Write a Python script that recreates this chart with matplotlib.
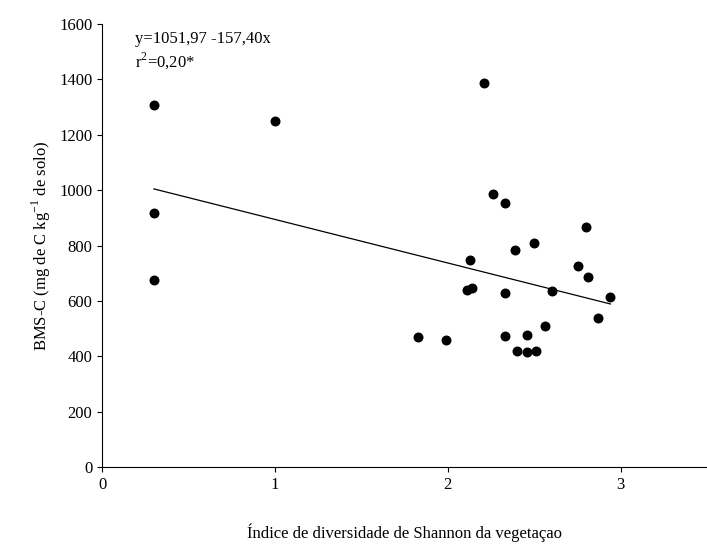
import matplotlib
matplotlib.use("Agg")
import matplotlib.pyplot as plt
import numpy as np

plt.rcParams['font.family'] = ['Liberation Serif', 'DejaVu Serif']
plt.rcParams['mathtext.fontset'] = 'custom'
plt.rcParams['mathtext.rm'] = 'Liberation Serif'
plt.rcParams['axes.unicode_minus'] = False
x = [0.30,0.30,0.30,1.00,2.21,2.26,2.33,2.39,2.50,2.13,2.11,2.14,2.33,2.60,1.83,1.99,2.33,2.40,2.46,2.46,2.51,2.56,2.75,2.80,2.81,2.87,2.94]
y = [1307,917,675,1250,1387,986,953,784,809,748,639,646,628,636,470,459,473,421,476,417,419,511,727,866,688,537,614]
a, b = 1051.97, -157.40

fig = plt.figure(figsize=(7.07,5.47), dpi=100)
ax = fig.add_axes([0.1443,0.146,0.856,0.81])
ax.scatter(x, y, s=38, color='black', zorder=3)
xl = np.array([0.30, 2.94])
ax.plot(xl, a + b*xl, color='black', lw=0.9)
ax.set_xlim(0, 3.5)
ax.set_ylim(0, 1600)
ax.set_xticks([0,1,2,3])
ax.set_yticks(range(0,1601,200))
for s in ['top','right']:
    ax.spines[s].set_visible(False)
ax.tick_params(labelsize=12, direction='out')
ax.set_xlabel('Índice de diversidade de Shannon da vegetaçao', fontsize=12, labelpad=22)
ax.set_ylabel('BMS-C (mg de C kg$^{\\mathregular{-1}}$ de solo)', fontsize=12)
ax.text(0.19, 1545, 'y=1051,97 -157,40x', fontsize=12, va='center')
ax.text(0.19, 1465, 'r$^{\\mathregular{2}}$=0,20*', fontsize=12, va='center')
fig.savefig('out.png', dpi=100)
